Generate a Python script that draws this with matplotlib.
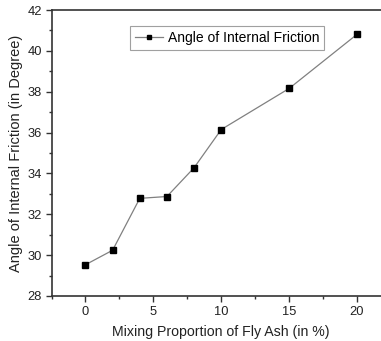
import matplotlib
matplotlib.use("Agg")
import matplotlib.pyplot as plt
from matplotlib.ticker import MultipleLocator

plt.rcParams['font.family'] = ['Liberation Sans', 'DejaVu Sans']

fly_ash = [0, 2, 4, 6, 8, 10, 15, 20]
friction_angle = [29.53, 30.24, 32.78, 32.87, 34.28, 36.15, 38.16, 40.81]
series_label = "Angle of Internal Friction"
x_label = "Mixing Proportion of Fly Ash (in %)"
y_label = "Angle of Internal Friction (in Degree)"

W, H = 381, 341
fig = plt.figure(figsize=(W/100, H/100), dpi=100)
left, right, top, bottom = 51.5, 391, 10, 296
ax = fig.add_axes([left/W, 1-bottom/H, (right-left)/W, (bottom-top)/H])

ax.plot(fly_ash, friction_angle, color='#808080', lw=0.9,
        marker='s', ms=4.6, mfc='black', mec='black', label=series_label)

ax.set_xlim(-2.5, 22.5)
ax.set_ylim(28, 42)
ax.xaxis.set_major_locator(MultipleLocator(5))
ax.xaxis.set_minor_locator(MultipleLocator(2.5))
ax.yaxis.set_major_locator(MultipleLocator(2))
ax.yaxis.set_minor_locator(MultipleLocator(1))

for s in ax.spines.values():
    s.set_color('#333333')
    s.set_linewidth(1.2)

ax.tick_params(which='major', direction='out', length=4, width=1, color='#333333',
               labelsize=9.3, labelcolor='#222222', pad=3, top=False, right=False)
ax.tick_params(which='minor', direction='out', length=2.5, width=1, color='#333333',
               top=False, right=False)

ax.set_xlabel(x_label, fontsize=10.2, color='#222222', labelpad=5)
ax.set_ylabel(y_label, fontsize=10.5, color='#222222', labelpad=3)

leg = ax.legend(loc='upper left', bbox_to_anchor=((130-left)/(right-left), 1-(26-top)/(bottom-top)),
                fontsize=10, frameon=True, fancybox=False, markerscale=0.75,
                handlelength=2.0, handletextpad=0.35, borderpad=0.35, borderaxespad=0)
leg.get_frame().set_edgecolor('#888888')
leg.get_frame().set_linewidth(0.8)

fig.savefig("out.png", dpi=100)
